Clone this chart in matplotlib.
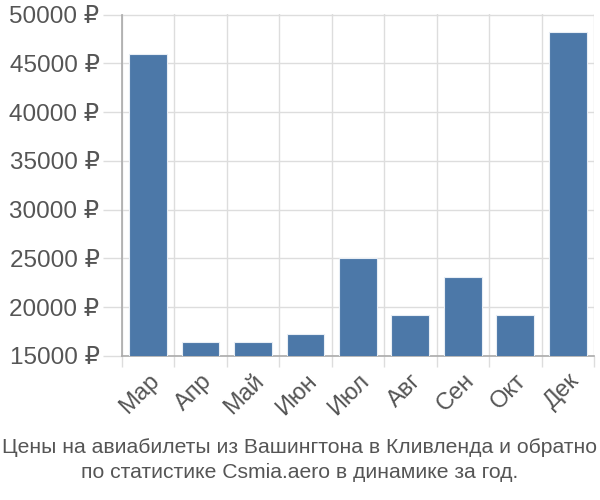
import numpy as np
import matplotlib
matplotlib.use("Agg")
import matplotlib.pyplot as plt

plt.rcParams['font.family'] = ['Liberation Sans', 'DejaVu Sans']

months = ['Мар', 'Апр', 'Май', 'Июн', 'Июл', 'Авг', 'Сен', 'Окт', 'Дек']
prices = [46000, 16400, 16400, 17300, 25000, 19200, 23100, 19200, 48200]
yticks = [15000, 20000, 25000, 30000, 35000, 40000, 45000, 50000]
title = ('Цены на авиабилеты из Вашингтона в Кливленда и обратно\n'
         'по статистике Csmia.aero в динамике за год.')

fig = plt.figure(figsize=(6, 5), dpi=100)
ax = fig.add_axes([0.203, 0.288, 0.787, 0.683])

x = np.arange(len(months))
ax.bar(x, prices, width=0.72, color='#4c78a8', edgecolor='#e8eef5', linewidth=0.8, zorder=3)

ax.set_xlim(-0.5, len(months) - 0.5)
ax.set_ylim(15000, 50000)
ax.set_yticks(yticks)
ax.set_yticklabels([f'{v} ₽' for v in yticks], fontsize=17.5, color='#555555')
ax.set_xticks(x)
ax.set_xticklabels(months, fontsize=17, color='#555555', rotation=45,
                   ha='right', va='top', rotation_mode='anchor')
ax.set_xticks(np.arange(len(months) + 1) - 0.5, minor=True)

ax.tick_params(axis='x', which='major', length=0, pad=10)
ax.tick_params(axis='x', which='minor', length=8, color='#dddddd', width=1)
ax.tick_params(axis='y', length=14, color='#dddddd', width=1, pad=2)

ax.grid(axis='y', color='#dddddd', linewidth=1, zorder=0)
ax.grid(axis='x', which='minor', color='#dddddd', linewidth=1, zorder=0)

for side in ['top', 'right']:
    ax.spines[side].set_visible(False)
for side in ['left', 'bottom']:
    ax.spines[side].set_color('#aaaaaa')
    ax.spines[side].set_linewidth(1.2)

fig.text(0.5, 0.08, title, ha='center', va='center', fontsize=15.2,
         color='#555555', linespacing=1.35)

fig.savefig('out.png', dpi=100)
